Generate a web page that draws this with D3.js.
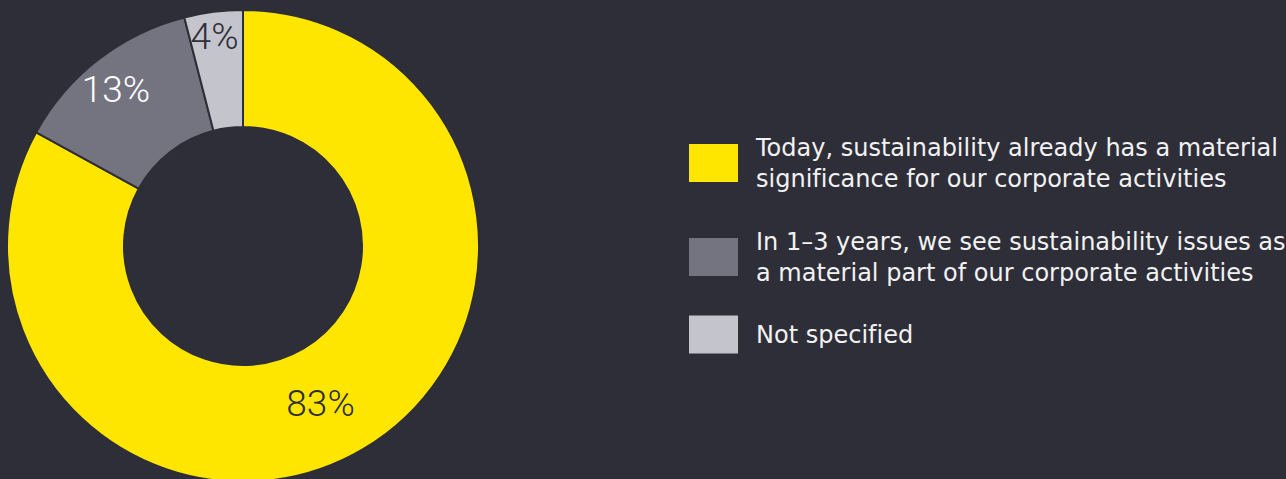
<html>
<head>
    <script src="https://d3js.org/d3.v7.min.js"></script>
    <style>
        body { margin: 0; background: #2e2e38; }
    </style>
</head>
<body>
    <svg id="svg" width="1286" height="479"></svg>
    <script>
        // shares of respondents (percent)
        const categories = ["Today", "In 1-3 years", "Not specified"]
        const values = [83, 13, 4]
        const labels = ["83%", "13%", "4%"]
        const legendLines = [
            ["Today, sustainability already has a material", "significance for our corporate activities"],
            ["In 1\u20133 years, we see sustainability issues as", "a material part of our corporate activities"],
            ["Not specified"]
        ]
        const colors = ["#ffe600", "#747480", "#c4c4cd"]
        const labelColors = ["#2e2e38", "#ffffff", "#2e2e38"]

        const svg = d3.select('#svg');
        const bg = "#2e2e38";
        svg.append("rect").attr("width", 1286).attr("height", 479).style("fill", bg);

        const cx = 243, cy = 246;
        const outerR = 236, innerR = 119;

        const data = categories.map((c, i) => ({ cat: c, value: values[i], label: labels[i], color: colors[i], lc: labelColors[i] }));

        const pie = d3.pie().sort(null).value(d => d.value);
        const arc = d3.arc().innerRadius(innerR).outerRadius(outerR);
        const arcs = pie(data);

        const chart = svg.append("g").attr("transform", `translate(${cx},${cy})`);

        chart.selectAll("path.slice").data(arcs)
            .join("path")
            .attr("class", "slice")
            .attr("d", arc)
            .style("fill", d => d.data.color)
            .style("stroke", bg)
            .style("stroke-width", 2)
            .style("stroke-linejoin", "round");

        // small slices get their labels pushed towards the outer edge
        const labelR = d => d.data.value < 10 ? 211 : d.data.value < 50 ? 204 : 172;
        const labelPos = d => {
            const r = labelR(d);
            const c = d3.arc().innerRadius(r).outerRadius(r).centroid(d);
            // big slice label sits a little further round, towards the bottom
            if (d.data.value >= 50) return [c[0] - 10, c[1] + 9];
            if (d.data.value >= 10) return [c[0] - 2, c[1] + 4];
            return [c[0] - 2, c[1] - 1];
        };

        chart.selectAll("text.pct").data(arcs)
            .join("text")
            .attr("class", "pct")
            .attr("x", d => labelPos(d)[0])
            .attr("y", d => labelPos(d)[1] + 13)
            .style("text-anchor", "middle")
            .style("font-family", "Roboto, 'DejaVu Sans', sans-serif")
            .style("font-weight", 300)
            .style("font-size", "37px")
            .style("fill", d => d.data.lc)
            .text(d => d.data.label);

        // legend
        const legend = svg.append("g").attr("transform", "translate(689,0)");
        const lineH = 31, capH = 17.5;
        let rowTop = 116;
        const rows = data.map((d, i) => {
            const h = legendLines[i].length * 33 + 28;
            const row = { d: d, lines: legendLines[i], center: rowTop + h / 2 };
            rowTop += h;
            return row;
        });

        const items = legend.selectAll("g.item").data(rows)
            .join("g")
            .attr("class", "item");

        items.append("rect")
            .attr("x", 0)
            .attr("y", r => r.center - 19)
            .attr("width", 49)
            .attr("height", 38)
            .style("fill", r => r.d.color);

        items.each(function (r) {
            const n = r.lines.length;
            const blockTop = r.center - (capH + lineH * (n - 1)) / 2;
            d3.select(this).selectAll("text").data(r.lines)
                .join("text")
                .attr("class", "leg")
                .attr("x", 67)
                .attr("y", (_, j) => blockTop + capH + lineH * j)
                .style("font-family", "'DejaVu Sans', sans-serif")
                .style("font-size", "24px")
                .style("fill", "#f2f2f2")
                .text(t => t);
        });

        // nudge letter spacing so the first line ends near the right edge like the original
        const first = legend.select("text.leg").node();
        const w = first.getComputedTextLength();
        const nChars = legendLines[0][0].length;
        const spacing = Math.max(-1, Math.min(1, (522 - w) / nChars));
        legend.selectAll("text.leg").style("letter-spacing", spacing + "px");
    </script>
</body>
</html>
